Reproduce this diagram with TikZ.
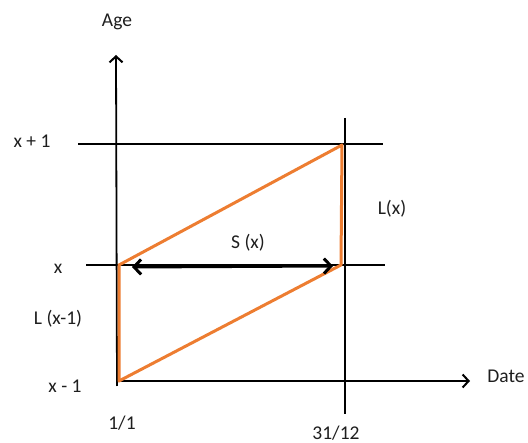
\documentclass[tikz,border=0pt]{standalone}
\usepackage{fontspec}
\setmainfont{Carlito}
\usetikzlibrary{arrows.meta}
\definecolor{orng}{RGB}{237,125,49}
\definecolor{txt}{RGB}{30,30,30}
\tikzset{
  axis/.style={line width=1.8pt, -{Straight Barb[length=6pt,width=13pt,line width=2pt]}},
  grid/.style={line width=1.8pt},
  para/.style={orng, line width=3pt, line join=round},
  lbl/.style={inner sep=0pt, text=txt, font=\fontsize{19.5}{22}\selectfont},
  dbl/.style={line width=3pt, {Straight Barb[length=7pt,width=15pt,line width=3pt]}-{Straight Barb[length=7pt,width=15pt,line width=3pt]}}
}
\begin{document}
\begin{tikzpicture}[x=1pt,y=-1pt]
\useasboundingbox (0,0) rectangle (528,443);
% coordinates
\coordinate (O) at (117,381);
\coordinate (ytop) at (116,55);
\coordinate (xend) at (470,381);
\coordinate (ybot) at (117,386);
\coordinate (rtop) at (345,118);
\coordinate (rbot) at (345,414);
\coordinate (h1l) at (78,144);
\coordinate (h1r) at (383,144);
\coordinate (h0l) at (86,265);
\coordinate (h0r) at (385,265);
\coordinate (A) at (119,381);
\coordinate (B) at (119,265);
\coordinate (C) at (342,145);
\coordinate (D) at (341,265);
\coordinate (sl) at (132,267);
\coordinate (sr) at (333,266);
% axes and grid lines
\draw[axis] (ybot) -- (ytop);
\draw[axis] (O) -- (xend);
\draw[grid] (rtop) -- (rbot);
\draw[grid] (h1l) -- (h1r);
\draw[grid] (h0l) -- (h0r);
% parallelogram
\draw[para] (A) -- (B) -- (C) -- (D) -- cycle;
% double arrow
\draw[dbl] (sl) -- (sr);
% labels
\node[lbl] (age) at (117,22) {Age};
\node[lbl] (date) at (506,376) {Date};
\node[lbl] (xp1) at (32,141) {x + 1};
\node[lbl] (x0) at (58,269) {x};
\node[lbl] (xm1) at (65,386) {x - 1};
\node[lbl] (lxm1) at (58,319) {L (x-1)};
\node[lbl] (lx) at (392,209) {L(x)};
\node[lbl] (sx) at (248,243) {S (x)};
\node[lbl] (d1) at (122,423) {1/1};
\node[lbl] (d2) at (336,433) {31/12};
\end{tikzpicture}
\end{document}
